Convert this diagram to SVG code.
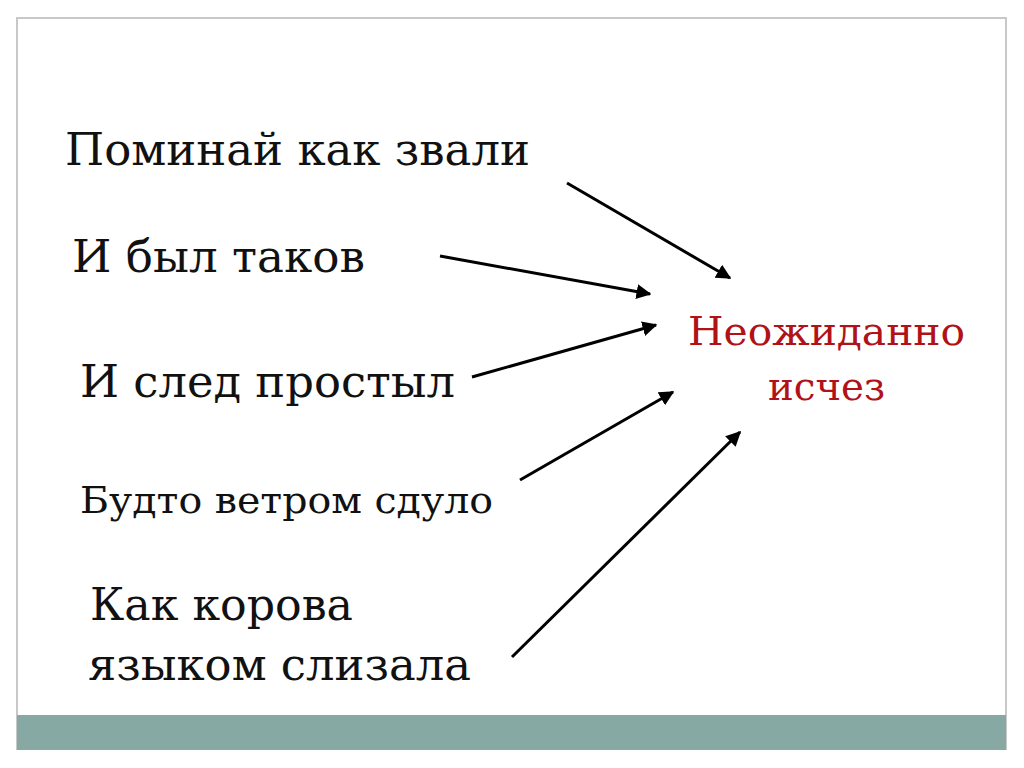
<svg xmlns="http://www.w3.org/2000/svg" width="1024" height="768" viewBox="0 0 1024 768">
<style>
.t{font-family:"DejaVu Serif","Liberation Serif",serif;fill:#111}
.r{font-family:"DejaVu Serif","Liberation Serif",serif;fill:#b01218}
.c{stroke:#000;stroke-width:3;fill:none;marker-end:url(#a)}
</style>
<defs><marker id="a" viewBox="0 0 10 10" refX="9" refY="5" markerWidth="5" markerHeight="5" orient="auto"><path d="M0,0L10,5L0,10z" fill="#000"/></marker></defs>
<rect width="1024" height="768" fill="#fff"/>
<path d="M17,750V18H1006V750" fill="none" stroke="#c8c8c8" stroke-width="2"/>
<rect x="17" y="715" width="989" height="35" fill="#86aaa3"/>
<g id="n1"><text class="t" x="65" y="165" font-size="44" textLength="465" lengthAdjust="spacingAndGlyphs">Поминай как звали</text></g>
<g id="n2"><text class="t" x="72" y="272" font-size="44" textLength="293" lengthAdjust="spacingAndGlyphs">И был таков</text></g>
<g id="n3"><text class="t" x="80" y="397" font-size="44" textLength="375" lengthAdjust="spacingAndGlyphs">И след простыл</text></g>
<g id="n4"><text class="t" x="80" y="513" font-size="38" textLength="413" lengthAdjust="spacingAndGlyphs">Будто ветром сдуло</text></g>
<g id="n5"><text class="t" x="90" y="620" font-size="44" textLength="263" lengthAdjust="spacingAndGlyphs">Как корова</text><text class="t" x="88" y="680" font-size="44" textLength="383" lengthAdjust="spacingAndGlyphs">языком слизала</text></g>
<g id="target"><text class="r" x="688" y="345" font-size="40" textLength="277" lengthAdjust="spacingAndGlyphs">Неожиданно</text><text class="r" x="768" y="400" font-size="40" textLength="117" lengthAdjust="spacingAndGlyphs">исчез</text></g>
<g id="connectors">
<line class="c" x1="567" y1="183" x2="730" y2="278"/>
<line class="c" x1="440" y1="256" x2="650" y2="294"/>
<line class="c" x1="472" y1="377" x2="656" y2="325"/>
<line class="c" x1="520" y1="480" x2="673" y2="392"/>
<line class="c" x1="512" y1="657" x2="740" y2="432"/>
</g>
</svg>
